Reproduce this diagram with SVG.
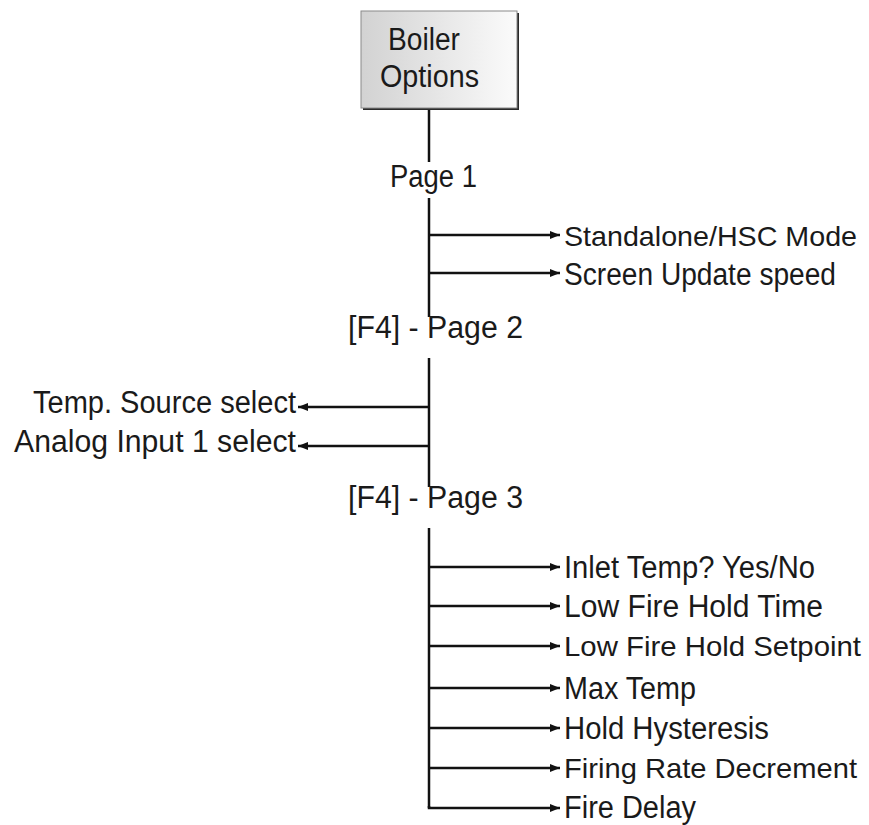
<svg xmlns="http://www.w3.org/2000/svg" width="869" height="825" viewBox="0 0 869 825">
  <style>
    .t { font-family: "Liberation Sans", Arial, sans-serif; font-size: 31px; fill: #1a1a1a; }
    .n { font-size: 28px; }
    .ln { stroke: #111; stroke-width: 2.5; fill: none; }
    .ar { stroke: #111; stroke-width: 2.5; fill: none; marker-end: url(#ah); }
  </style>
  <defs>
    <linearGradient id="bg" x1="0" y1="0" x2="1" y2="0">
      <stop offset="0" stop-color="#d2d2d2"/>
      <stop offset="1" stop-color="#fbfbfb"/>
    </linearGradient>
    <marker id="ah" markerUnits="userSpaceOnUse" markerWidth="12" markerHeight="10" refX="10" refY="5" orient="auto">
      <path d="M0,1 L10,5 L0,9 Z" fill="#111"/>
    </marker>
  </defs>
  <rect width="869" height="825" fill="#ffffff"/>

  <g id="boiler-options">
    <rect x="363" y="13" width="156" height="97" fill="#2a2a2a"/>
    <rect x="361" y="11" width="156" height="97" fill="url(#bg)" stroke="#8a8a8a" stroke-width="1"/>
    <text class="t" x="388" y="50" textLength="72" lengthAdjust="spacingAndGlyphs">Boiler</text>
    <text class="t" x="380" y="87" textLength="99" lengthAdjust="spacingAndGlyphs">Options</text>
  </g>

  <g id="connectors">
    <line class="ln" x1="429" y1="110" x2="429" y2="162"/>
    <line class="ln" x1="429" y1="198" x2="429" y2="317"/>
    <line class="ln" x1="429" y1="358" x2="429" y2="487"/>
    <line class="ln" x1="429" y1="528" x2="429" y2="808"/>
    <line class="ar" x1="429" y1="235" x2="560" y2="235"/>
    <line class="ar" x1="429" y1="273" x2="560" y2="273"/>
    <line class="ar" x1="429" y1="407" x2="298" y2="407"/>
    <line class="ar" x1="429" y1="446" x2="298" y2="446"/>
    <line class="ar" x1="429" y1="567" x2="560" y2="567"/>
    <line class="ar" x1="429" y1="606" x2="560" y2="606"/>
    <line class="ar" x1="429" y1="646" x2="560" y2="646"/>
    <line class="ar" x1="429" y1="688" x2="560" y2="688"/>
    <line class="ar" x1="429" y1="728" x2="560" y2="728"/>
    <line class="ar" x1="429" y1="768" x2="560" y2="768"/>
    <path class="ar" d="M429,806 L429,808 L560,808"/>
  </g>

  <g id="page1"><text class="t" x="390" y="187" textLength="87" lengthAdjust="spacingAndGlyphs">Page 1</text></g>
  <g id="standalone"><text class="t n" x="564" y="246" textLength="293" lengthAdjust="spacingAndGlyphs">Standalone/HSC Mode</text></g>
  <g id="screen-update"><text class="t" x="564" y="285" textLength="272" lengthAdjust="spacingAndGlyphs">Screen Update speed</text></g>

  <g id="page2"><text class="t" x="348" y="338" textLength="175" lengthAdjust="spacingAndGlyphs">[F4] - Page 2</text></g>
  <g id="temp-source"><text class="t" x="33" y="413" textLength="263" lengthAdjust="spacingAndGlyphs">Temp. Source select</text></g>
  <g id="analog-input"><text class="t" x="14" y="452" textLength="282" lengthAdjust="spacingAndGlyphs">Analog Input 1 select</text></g>

  <g id="page3"><text class="t" x="348" y="508" textLength="175" lengthAdjust="spacingAndGlyphs">[F4] - Page 3</text></g>
  <g id="inlet-temp"><text class="t" x="564" y="578" textLength="251" lengthAdjust="spacingAndGlyphs">Inlet Temp? Yes/No</text></g>
  <g id="low-fire-time"><text class="t" x="564" y="617" textLength="259" lengthAdjust="spacingAndGlyphs">Low Fire Hold Time</text></g>
  <g id="low-fire-setpoint"><text class="t n" x="564" y="656" textLength="297" lengthAdjust="spacingAndGlyphs">Low Fire Hold Setpoint</text></g>
  <g id="max-temp"><text class="t" x="564" y="699" textLength="132" lengthAdjust="spacingAndGlyphs">Max Temp</text></g>
  <g id="hold-hysteresis"><text class="t" x="564" y="739" textLength="205" lengthAdjust="spacingAndGlyphs">Hold Hysteresis</text></g>
  <g id="firing-rate"><text class="t n" x="564" y="778" textLength="293" lengthAdjust="spacingAndGlyphs">Firing Rate Decrement</text></g>
  <g id="fire-delay"><text class="t" x="564" y="818" textLength="132" lengthAdjust="spacingAndGlyphs">Fire Delay</text></g>
</svg>
